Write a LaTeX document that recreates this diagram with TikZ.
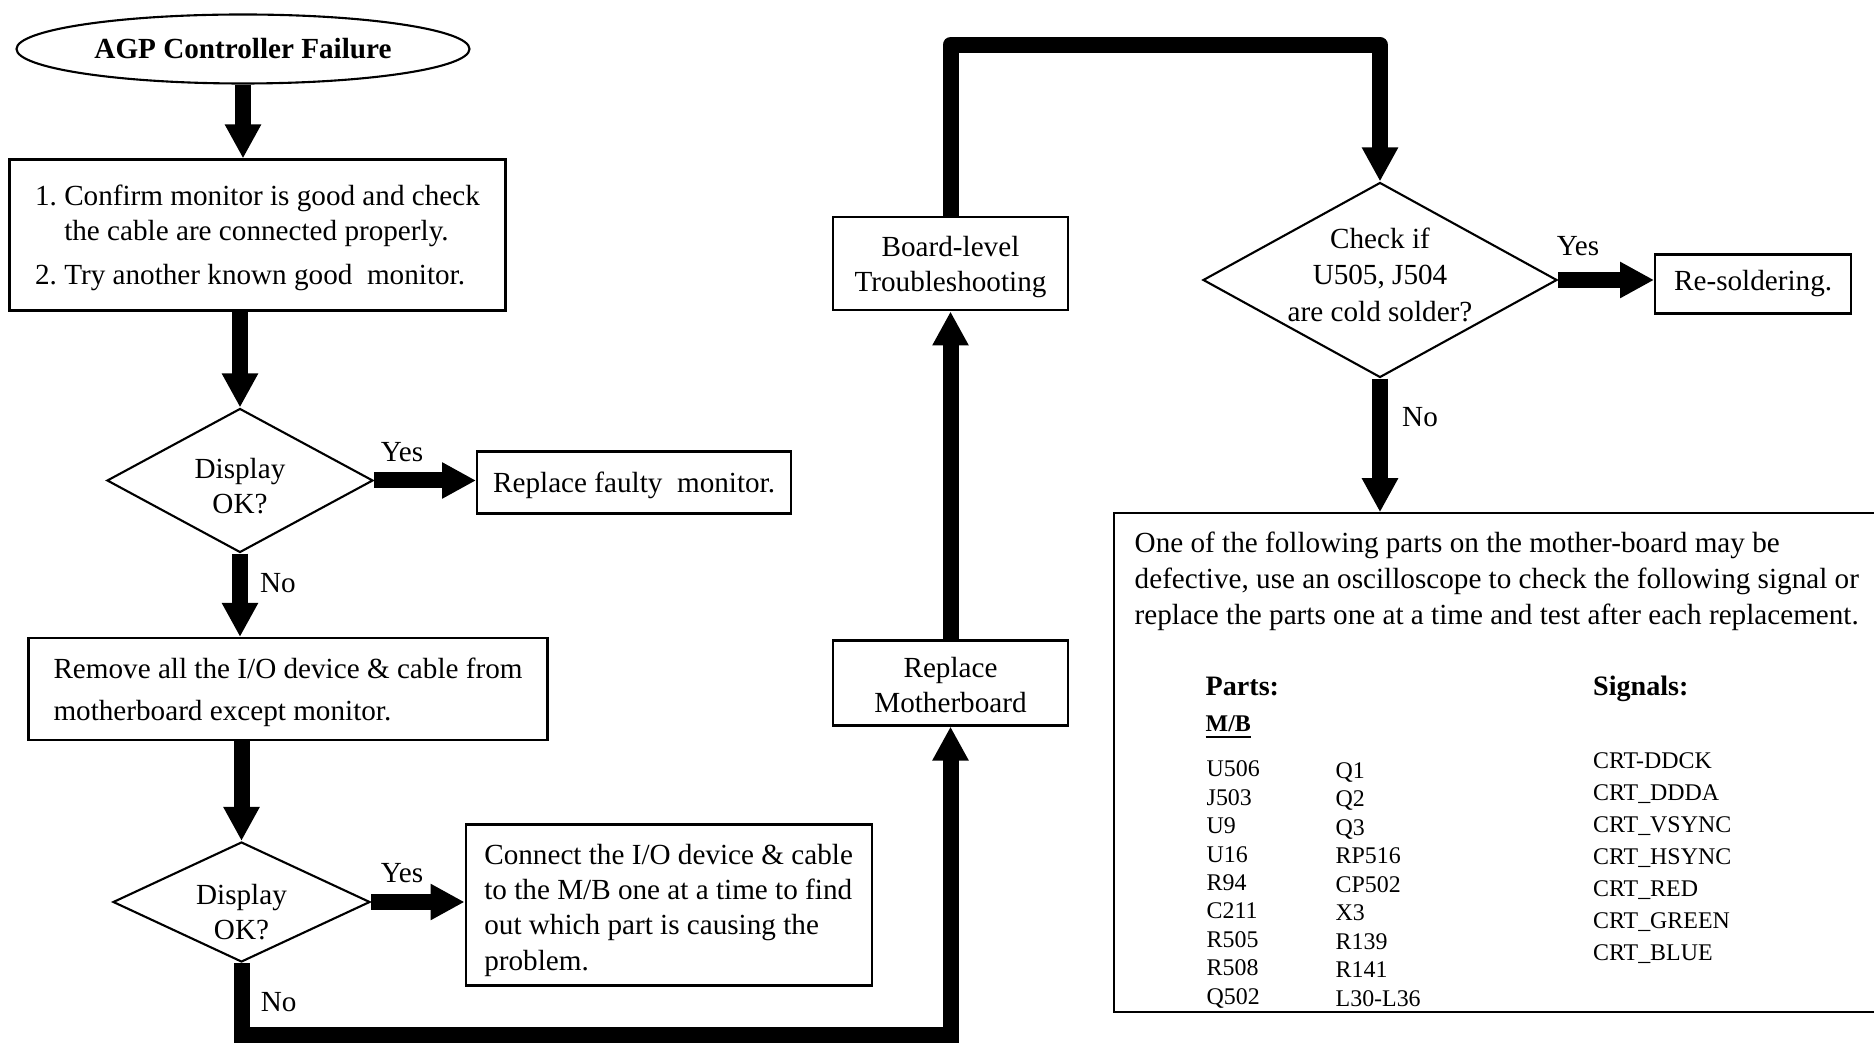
\documentclass[tikz,border=0pt]{standalone}
\usepackage{fontspec}
\setmainfont{Liberation Serif}
\usetikzlibrary{arrows.meta, positioning, shapes.geometric}

\begin{document}
\begin{tikzpicture}[
        font=\fontsize{8.3}{10}\selectfont,
        box/.style={rectangle, draw, line width=0.6pt, align=center, inner sep=0pt},
        decision/.style={diamond, draw, line width=0.6pt, align=center, inner sep=-2pt, aspect=1.8},
        arrow/.style={line width=1.6mm, -{Triangle[length=3.4mm, width=3.4mm]}},
        lbl/.style={inner sep=0pt},
        small/.style={font=\fontsize{6.8}{8.1}\selectfont, align=left, inner sep=0pt, anchor=west}
    ]
    \useasboundingbox (0,0) rectangle (18.74,10.42);
    \clip (0,0) rectangle (18.74,10.42);

    % left column
    \node[ellipse, draw, line width=0.6pt, minimum width=4.53cm, minimum height=0.69cm, inner sep=0pt,
          font=\bfseries\fontsize{8.3}{10}\selectfont] (start) at (2.43,9.93) {AGP Controller Failure};
    \node[box, minimum width=4.96cm, minimum height=1.51cm, align=left, text depth=0pt] (confirm) at (2.575,8.07)
        {1.\ Confirm monitor is good and check\\\phantom{1.\ }the cable are connected properly.\\[2.5pt]2.\ Try another known good\ \ monitor.};
    \node[decision, minimum width=2.66cm, minimum height=1.44cm, text height=18.7pt, text depth=0pt] (disp1) at (2.40,5.615)
        {Display\\OK?};
    \node[box, right=1.02cm of disp1, yshift=-0.02cm, minimum width=3.14cm, minimum height=0.62cm, text depth=0pt] (monitor)
        {Replace faulty\ \ monitor.};
    \node[box, minimum width=5.19cm, minimum height=1.02cm, align=left, text depth=0pt,
          font=\fontsize{8.3}{12.1}\selectfont] (remove) at (2.88,3.53) {Remove all the I/O device \& cable from\\motherboard except monitor.};
    \node[decision, minimum width=2.57cm, minimum height=1.2cm, text height=21.3pt, text depth=0pt] (disp2) at (2.415,1.40)
        {Display\\OK?};
    \node[box, right=0.935cm of disp2, yshift=-0.03cm, minimum width=4.06cm, minimum height=1.61cm, align=left,
          text height=37pt, text depth=0pt] (connect)
        {Connect the I/O device \& cable\\to the M/B one at a time to find\\out which part is causing the\\problem.};

    % middle column
    \node[box, minimum width=2.35cm, minimum height=0.85cm, text height=17pt, text depth=0pt] (repl) at (9.505,3.59)
        {Replace\\Motherboard};
    \node[box, above=3.28cm of repl, minimum width=2.35cm, minimum height=0.93cm, text depth=0pt] (board)
        {Board-level\\Troubleshooting};

    % right column
    \node[decision, inner sep=-3pt, minimum width=3.54cm, minimum height=1.95cm, text depth=3pt,
          font=\fontsize{8.3}{10.4}\selectfont] (cold) at (13.80,7.62)
        {Check if\\U505, J504\\are cold solder?};
    \node[box, right=0.96cm of cold, yshift=-0.04cm, minimum width=1.96cm, minimum height=0.59cm] (resold) {Re-soldering.};
    \node[box, minimum width=7.76cm, minimum height=4.984cm] (parts) at (15.02,2.795) {};

    \node[lbl, anchor=west, align=left, font=\fontsize{8.3}{10.2}\selectfont] (note) at (11.34,4.61)
        {One of the following parts on the mother-board may be\\defective, use an oscilloscope to check the following signal or\\replace the parts one at a time and test after each replacement.};
    \node[lbl, anchor=base west, font=\bfseries\fontsize{8}{10}\selectfont] (partshd) at (12.05,3.47) {Parts:};
    \node[lbl, anchor=base west, font=\bfseries\fontsize{8}{10}\selectfont] (sighd) at (15.925,3.47) {Signals:};
    \node[lbl, anchor=base west, font=\bfseries\fontsize{6.8}{8}\selectfont] (mb) at (12.05,3.10) {\underline{M/B}};
    \node[small] (colA) at (12.06,1.575) {U506\\J503\\U9\\U16\\R94\\C211\\R505\\R508\\Q502};
    \node[small] (colB) at (13.35,1.575) {Q1\\Q2\\Q3\\RP516\\CP502\\X3\\R139\\R141\\L30-L36};
    \node[small, font=\fontsize{6.8}{9.1}\selectfont] (sigs) at (15.925,1.838)
        {CRT-DDCK\\CRT\_DDDA\\CRT\_VSYNC\\CRT\_HSYNC\\CRT\_RED\\CRT\_GREEN\\CRT\_BLUE};

    % yes / no labels
    \node[lbl] (yes1) at (4.02,5.90) {Yes};
    \node[lbl] (no1) at (2.78,4.59) {No};
    \node[lbl] (yes2) at (4.02,1.69) {Yes};
    \node[lbl] (no2) at (2.787,0.404) {No};
    \node[lbl] (yes3) at (15.78,7.955) {Yes};
    \node[lbl] (no3) at (14.20,6.25) {No};

    % connectors
    \draw[arrow] (start.south) -- (start.south |- confirm.north);
    \draw[arrow] (confirm.south -| disp1.north) -- (disp1.north);
    \draw[arrow] (disp1.east) -- (disp1.east -| monitor.west);
    \draw[arrow] (disp1.south) -- (disp1.south |- remove.north);
    \draw[arrow] (remove.south -| disp2.north) -- (disp2.north);
    \draw[arrow] (disp2.east) -- (disp2.east -| connect.west);
    \draw[arrow] (disp2.south) -- ++(0,-0.72) -| (repl.south);
    \draw[arrow] (repl.north) -- (board.south);
    \draw[arrow, line join=round] (board.north) -- ++(0,1.715) -| (cold.north);
    \draw[arrow] (cold.east) -- (cold.east -| resold.west);
    \draw[arrow] (cold.south) -- (cold.south |- parts.north);

\end{tikzpicture}
\end{document}
